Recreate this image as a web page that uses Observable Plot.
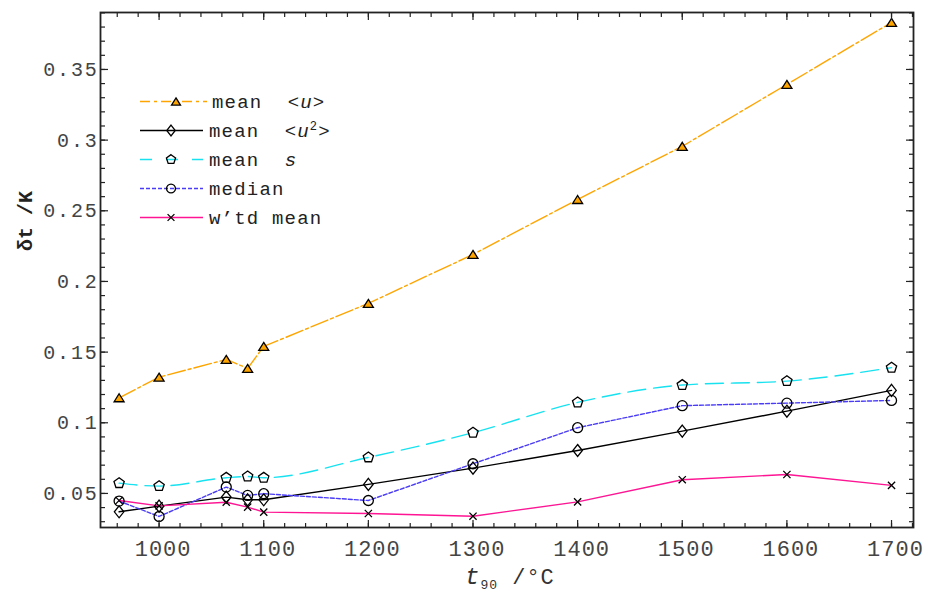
<!DOCTYPE html>
<html>
<head>
<meta charset="utf-8">
<script src="https://cdn.jsdelivr.net/npm/d3@7"></script>
<script src="https://cdn.jsdelivr.net/npm/@observablehq/plot@0.6"></script>
<style>
  body { margin: 0; background: #fff; }
  #chart svg { display: block; }
</style>
</head>
<body>
<div id="chart"></div>
<script>
// Fixed-point and calibration temperatures, t90 / °C
const temps = [961.78, 1000, 1064.18, 1084.62, 1100, 1200, 1300, 1400, 1500, 1600, 1700];

// Uncertainty estimates δt / K at each temperature
const meanU   = [0.1177, 0.1323, 0.1448, 0.1385, 0.1540, 0.1845, 0.2191, 0.2580, 0.2956, 0.3394, 0.3833];
const meanU2  = [0.0370, 0.0410, 0.0474, 0.0455, 0.0455, 0.0564, 0.0679, 0.0804, 0.0941, 0.1082, 0.1229];
const meanS   = [0.0573, 0.0552, 0.0611, 0.0620, 0.0611, 0.0755, 0.0930, 0.1144, 0.1267, 0.1295, 0.1390];
const medianV = [0.0446, 0.0337, 0.0545, 0.0486, 0.0498, 0.0450, 0.0710, 0.0965, 0.1121, 0.1139, 0.1158];
const wtdMean = [0.0450, 0.0412, 0.0438, 0.0403, 0.0368, 0.0358, 0.0339, 0.0440, 0.0597, 0.0634, 0.0557];

// Axis ticks and labels
const xTicks = [1000, 1100, 1200, 1300, 1400, 1500, 1600, 1700];
const xMinor = d3.range(960, 1721, 20);
const yTicks = [0.05, 0.1, 0.15, 0.2, 0.25, 0.3, 0.35];
const yTickLabels = ["0.05", "0.1", "0.15", "0.2", "0.25", "0.3", "0.35"];
const yMinor = d3.range(3, 40).map(d => d / 100);

// Custom marker shapes
const pentagon = {
  draw(ctx, size) {
    const r = Math.sqrt(size / Math.PI) * 1.08;
    for (let i = 0; i < 5; i++) {
      const a = -Math.PI / 2 + i * 2 * Math.PI / 5;
      const px = r * Math.cos(a), py = r * Math.sin(a);
      if (i === 0) ctx.moveTo(px, py); else ctx.lineTo(px, py);
    }
    ctx.closePath();
  }
};
const diamond = {
  draw(ctx, size) {
    const r = Math.sqrt(size / Math.PI);
    const w = r * 0.95, h = r * 1.2;
    ctx.moveTo(0, -h); ctx.lineTo(w, 0); ctx.lineTo(0, h); ctx.lineTo(-w, 0); ctx.closePath();
  }
};
const triangle = {
  draw(ctx, size) {
    const r = Math.sqrt(size / Math.PI);
    const w = r * 1.0, h = r * 0.8;
    ctx.moveTo(0, -h); ctx.lineTo(w, h); ctx.lineTo(-w, h); ctx.closePath();
  }
};
const cross = {
  draw(ctx, size) {
    const r = Math.sqrt(size / Math.PI);
    ctx.moveTo(-r, -r); ctx.lineTo(r, r); ctx.moveTo(r, -r); ctx.lineTo(-r, r);
  }
};

const series = [
  {key: "meanU",  values: meanU,   color: "#FFA500", dash: "18,3,3,3", curve: "linear",     symbol: triangle, r: 5,   fill: "#FFA500"},
  {key: "meanU2", values: meanU2,  color: "#000000", dash: null,       curve: "linear",     symbol: diamond,  r: 5,   fill: "none"},
  {key: "meanS",  values: meanS,   color: "#18E2F0", dash: "18,8",     curve: "monotone-x", symbol: pentagon, r: 5,   fill: "none"},
  {key: "median", values: medianV, color: "#4A3CF5", dash: "4,2",      curve: "linear",     symbol: "circle", r: 5,   fill: "none"},
  {key: "wtd",    values: wtdMean, color: "#FF1493", dash: null,       curve: "linear",     symbol: cross,    r: 3.6, fill: "none"}
];
const rowsOf = s => temps.map((t, i) => ({t, v: s.values[i]}));

const tickStyle = {stroke: "#222", strokeWidth: 1.2, label: null, tickFormat: () => ""};

const plot = Plot.plot({
  width: 926,
  height: 592,
  marginLeft: 100,
  marginRight: 13,
  marginTop: 12,
  marginBottom: 65,
  style: {fontFamily: "'Liberation Mono', monospace", background: "#fff", color: "#222"},
  x: {domain: [944, 1721]},
  y: {domain: [0.0259, 0.3903]},
  marks: [
    ...series.map(s => Plot.line(rowsOf(s), {
      x: "t", y: "v", stroke: s.color, strokeWidth: 1.4,
      strokeDasharray: s.dash, curve: s.curve
    })),
    ...series.map(s => Plot.dot(rowsOf(s), {
      x: "t", y: "v", symbol: s.symbol, r: s.r,
      stroke: "#000", strokeWidth: 1.3, fill: s.fill
    })),
    // inward ticks on all four sides
    Plot.axisX({anchor: "bottom", ticks: xMinor, tickSize: -4, ...tickStyle}),
    Plot.axisX({anchor: "bottom", ticks: xTicks, tickSize: -7, ...tickStyle}),
    Plot.axisX({anchor: "top", ticks: xMinor, tickSize: -4, ...tickStyle}),
    Plot.axisX({anchor: "top", ticks: xTicks, tickSize: -7, ...tickStyle}),
    Plot.axisY({anchor: "left", ticks: yMinor, tickSize: -5, ...tickStyle}),
    Plot.axisY({anchor: "left", ticks: yTicks, tickSize: -8, ...tickStyle}),
    Plot.axisY({anchor: "right", ticks: yMinor, tickSize: -5, ...tickStyle}),
    Plot.axisY({anchor: "right", ticks: yTicks, tickSize: -8, ...tickStyle}),
    // tick labels
    Plot.axisX({anchor: "bottom", ticks: xTicks, tickSize: 0, tickPadding: 13, dx: 4,
      tickFormat: d => String(d), fontSize: 22, fill: "#444", label: null}),
    Plot.axisY({anchor: "left", ticks: yTicks, tickSize: 0, tickPadding: 2,
      tickFormat: (d, i) => yTickLabels[i], fontSize: 20, fill: "#444", label: null}),
    Plot.frame({stroke: "#222", strokeWidth: 1.8})
  ]
});

document.getElementById("chart").append(plot);

const svg = d3.select(plot);
svg.selectAll('g[aria-label="x-axis tick label"] text').style("letter-spacing", "1px");
svg.selectAll('g[aria-label="y-axis tick label"] text').style("letter-spacing", "1.8px");

// Legend
const legend = svg.append("g").attr("font-family", "'Liberation Mono', monospace")
  .attr("font-size", 19).attr("fill", "#222").attr("text-anchor", "start");
const legendLabels = [
  [["mean\u00a0\u00a0"], ["<"], ["u", "italic"], [">"]],
  [["mean\u00a0\u00a0"], ["<"], ["u", "italic"], ["2", "sup"], [">", "after"]],
  [["mean\u00a0\u00a0"], ["s", "italic"]],
  [["median"]],
  [["w’td mean"]]
];
series.forEach((s, i) => {
  const y = 101.5 + i * 29;
  const g = legend.append("g");
  g.append("line").attr("x1", 140).attr("x2", i === 0 ? 207 : 203).attr("y1", y).attr("y2", y)
    .attr("stroke", s.color).attr("stroke-width", 1.4)
    .attr("stroke-dasharray", i === 0 ? "10,4,3,4" : (i === 2 ? "12,14" : s.dash));
  const sym = typeof s.symbol === "string" ? d3.symbolCircle : s.symbol;
  g.append("path").attr("transform", `translate(${i === 0 ? 176 : 171},${y})`)
    .attr("d", d3.symbol(sym, Math.PI * s.r * s.r * (i === 4 ? 0.9 : 0.8))())
    .attr("fill", s.fill).attr("stroke", "#000").attr("stroke-width", 1.3);
  const t = g.append("text").attr("x", i === 0 ? 212 : 209).attr("y", y).attr("dy", "0.35em")
    .style("letter-spacing", "1.2px");
  legendLabels[i].forEach(([str, kind]) => {
    const ts = t.append("tspan").text(str);
    if (kind === "italic") ts.attr("font-style", "italic");
    if (kind === "sup") ts.attr("font-size", 12).attr("dy", "-0.6em");
    if (kind === "after") ts.attr("dy", "0.38em");
  });
});

// Axis titles
svg.append("text")
  .attr("transform", "translate(25,221) rotate(-90)")
  .attr("text-anchor", "middle").attr("dy", "0.35em")
  .attr("font-family", "'Liberation Mono', monospace").attr("font-size", 20)
  .attr("font-weight", "bold").attr("fill", "#222")
  .text("δt /K");

const xt = svg.append("text").attr("x", 465).attr("y", 584).attr("text-anchor", "start")
  .attr("font-family", "'Liberation Mono', monospace").attr("font-size", 22).attr("fill", "#333")
  .style("letter-spacing", "1px");
xt.append("tspan").attr("font-style", "italic").attr("font-size", 24).text("t");
xt.append("tspan").attr("font-size", 13).attr("dy", 5).text("90");
xt.append("tspan").attr("dy", -5).text(" /°C");
</script>
</body>
</html>
